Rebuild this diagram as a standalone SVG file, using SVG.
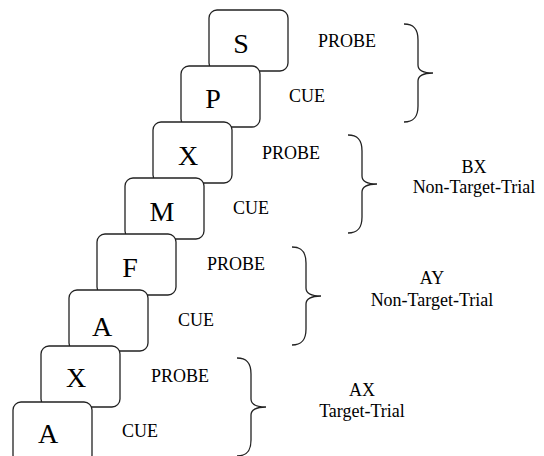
<svg xmlns="http://www.w3.org/2000/svg" xmlns:xlink="http://www.w3.org/1999/xlink" width="544" height="456" viewBox="0 0 544 456">
<style>
text{font-family:'Liberation Serif','Times New Roman',serif;fill:#000}
.card{fill:#fff;stroke:#222;stroke-width:1.3}
.let{font-size:28px;text-anchor:middle}
.lab{font-size:18px}
.trial{font-size:18px;text-anchor:middle}
.brace{fill:none;stroke:#222;stroke-width:1.3}
</style>
<defs>
<path id="br" d="M0,0 C9,0 14,4 14,16 L14,41 C14,46 19,49 29,49 C19,49 14,52 14,57 L14,82 C14,94 9,98 0,98"/>
</defs>
<rect width="544" height="456" fill="#fff"/>
<g id="n-S"><rect class="card" x="209" y="10" width="79" height="61" rx="8"/><text class="let" x="241" y="53">S</text></g>
<g id="n-P"><rect class="card" x="181" y="66" width="79" height="61" rx="8"/><text class="let" x="213" y="108">P</text></g>
<g id="n-X1"><rect class="card" x="153" y="122" width="79" height="61" rx="8"/><text class="let" x="188" y="165">X</text></g>
<g id="n-M"><rect class="card" x="125" y="178" width="79" height="61" rx="8"/><text class="let" x="162" y="221">M</text></g>
<g id="n-F"><rect class="card" x="97" y="234" width="79" height="61" rx="8"/><text class="let" x="130" y="277">F</text></g>
<g id="n-A1"><rect class="card" x="69" y="290" width="79" height="61" rx="8"/><text class="let" x="102" y="336">A</text></g>
<g id="n-X2"><rect class="card" x="41" y="346" width="79" height="61" rx="8"/><text class="let" x="76" y="387">X</text></g>
<g id="n-A2"><rect class="card" x="13" y="402" width="79" height="61" rx="8"/><text class="let" x="48" y="443">A</text></g>
<g id="labels">
<text class="lab" x="318" y="47">PROBE</text>
<text class="lab" x="289" y="102">CUE</text>
<text class="lab" x="262" y="159">PROBE</text>
<text class="lab" x="233" y="214">CUE</text>
<text class="lab" x="207" y="270">PROBE</text>
<text class="lab" x="178" y="326">CUE</text>
<text class="lab" x="151" y="382">PROBE</text>
<text class="lab" x="122" y="437">CUE</text>
</g>
<g id="connectors">
<use xlink:href="#br" class="brace" transform="translate(404,24)"/>
<use xlink:href="#br" class="brace" transform="translate(348,135)"/>
<use xlink:href="#br" class="brace" transform="translate(292,247)"/>
<use xlink:href="#br" class="brace" transform="translate(237,358)"/>
</g>
<g id="trials">
<text class="trial" x="474" y="173">BX</text>
<text class="trial" x="474" y="193">Non-Target-Trial</text>
<text class="trial" x="432" y="284">AY</text>
<text class="trial" x="432" y="306">Non-Target-Trial</text>
<text class="trial" x="362" y="396">AX</text>
<text class="trial" x="362" y="417">Target-Trial</text>
</g>
</svg>
